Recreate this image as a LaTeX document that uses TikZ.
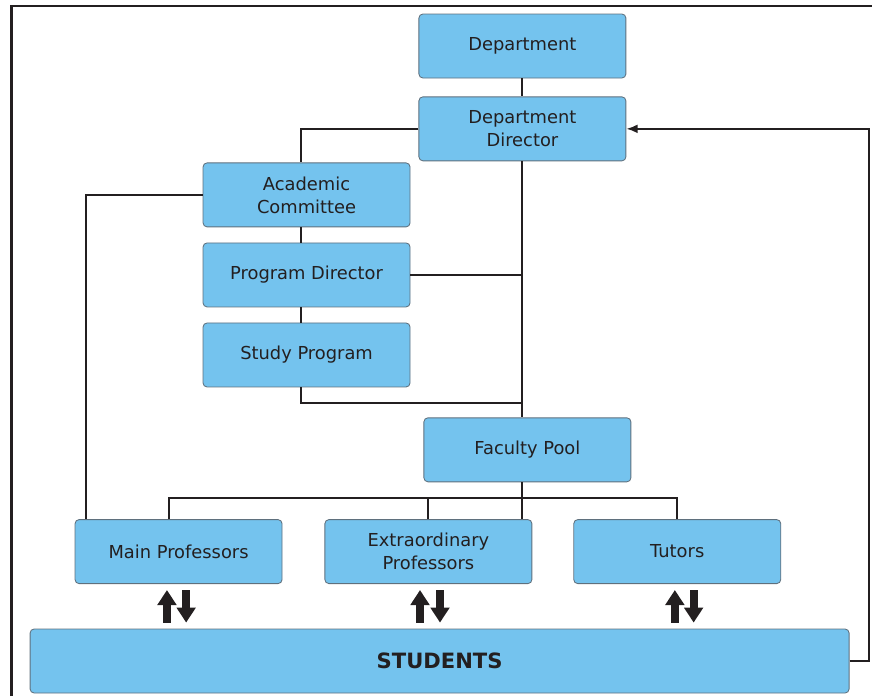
\documentclass[tikz,border=0pt]{standalone}
\usepackage{fontspec}
\setmainfont{DejaVu Sans}
\usetikzlibrary{positioning, arrows.meta}

\definecolor{boxblue}{RGB}{116,195,238}
\definecolor{boxline}{RGB}{95,112,125}
\definecolor{inkdark}{RGB}{35,31,32}

\tikzset{
  unit/.style = {rectangle, rounded corners = 0.1cm, draw = boxline, line width = 0.6pt,
                 fill = boxblue, text = inkdark, align = center,
                 minimum width = 5.175cm, minimum height = 1.6cm, inner sep = 0pt,
                 font = \fontsize{12.7}{16.4}\selectfont},
  wire/.style = {draw = inkdark, line width = 1.4pt},
  flow/.style = {draw = inkdark, fill = inkdark, line width = 0.2cm,
                 -{Triangle[length = 0.375cm, width = 0.46cm]}}
}

\begin{document}
\begin{tikzpicture}
        \useasboundingbox (0, 0) rectangle (21.8, -17.4);
        \draw[inkdark, line width = 0.07cm] (0.28, -17.4) -- (0.28, -0.15) -- (21.8, -0.15);

        \node[unit] (dept) at (13.06, -1.15) {Department};
        \node[unit] (dir) [below = 0.45cm of dept] {Department\\Director};
        \node[unit] (acom) [below left = 0.03cm and 0.2cm of dir] {Academic\\Committee};
        \node[unit] (pdir) [below = 0.38cm of acom] {Program Director};
        \node[unit] (sprog) [below = 0.38cm of pdir] {Study Program};
        \node[unit] (fpool) [below right = 0.75cm and 0.325cm of sprog] {Faculty Pool};

        \node[unit] (extra) at (10.71, -13.79) {Extraordinary\\Professors};
        \node[unit] (mainp) [left = 1.05cm of extra] {Main Professors};
        \node[unit] (tutors) [right = 1.025cm of extra] {Tutors};
        \node[unit, minimum width = 20.475cm, font = \fontsize{15}{18}\selectfont\bfseries]
              (students) at (10.99, -16.525) {STUDENTS};

        \coordinate (bar) at ([yshift = -0.4cm]fpool.south);

        \draw[wire] (dept) -- (dir);
        \draw[wire] (dir.west) -| ([xshift = -0.15cm]acom.north);
        \draw[wire] (acom.west) -| ([xshift = 0.275cm]mainp.north west);
        \draw[wire] ([xshift = -0.15cm]acom.south) -- ([xshift = -0.15cm]pdir.north);
        \draw[wire] ([xshift = -0.15cm]pdir.south) -- ([xshift = -0.15cm]sprog.north);
        \draw[wire] (pdir.east) -- (pdir.east -| dir.south);
        \draw[wire] ([xshift = -0.15cm]sprog.south) |- ([yshift = 0.35cm]fpool.north -| dir.south);
        \draw[wire] (dir.south) -- (fpool.north -| dir.south);
        \draw[wire] (fpool.south -| dir.south) -- (extra.north -| dir.south);
        \draw[wire] ([xshift = -0.24cm]mainp.north) |- (tutors.north |- bar) -- (tutors.north);
        \draw[wire] (extra.north) -- (extra.north |- bar);
        \draw[wire, -{Latex[length = 0.28cm, width = 0.22cm]}] (students.east) -- ++(0.475, 0) |- (dir.east);

        % two way traffic with the students
        \draw[flow] ([xshift = -0.29cm, yshift = 0.15cm]students.north -| mainp.south) -- ([xshift = -0.29cm, yshift = -0.15cm]mainp.south);
        \draw[flow] ([xshift = 0.19cm, yshift = -0.15cm]mainp.south) -- ([xshift = 0.19cm, yshift = 0.15cm]students.north -| mainp.south);
        \draw[flow] ([xshift = -0.21cm, yshift = 0.15cm]students.north -| extra.south) -- ([xshift = -0.21cm, yshift = -0.15cm]extra.south);
        \draw[flow] ([xshift = 0.29cm, yshift = -0.15cm]extra.south) -- ([xshift = 0.29cm, yshift = 0.15cm]students.north -| extra.south);
        \draw[flow] ([xshift = -0.06cm, yshift = 0.15cm]students.north -| tutors.south) -- ([xshift = -0.06cm, yshift = -0.15cm]tutors.south);
        \draw[flow] ([xshift = 0.41cm, yshift = -0.15cm]tutors.south) -- ([xshift = 0.41cm, yshift = 0.15cm]students.north -| tutors.south);
      \end{tikzpicture}
\end{document}
